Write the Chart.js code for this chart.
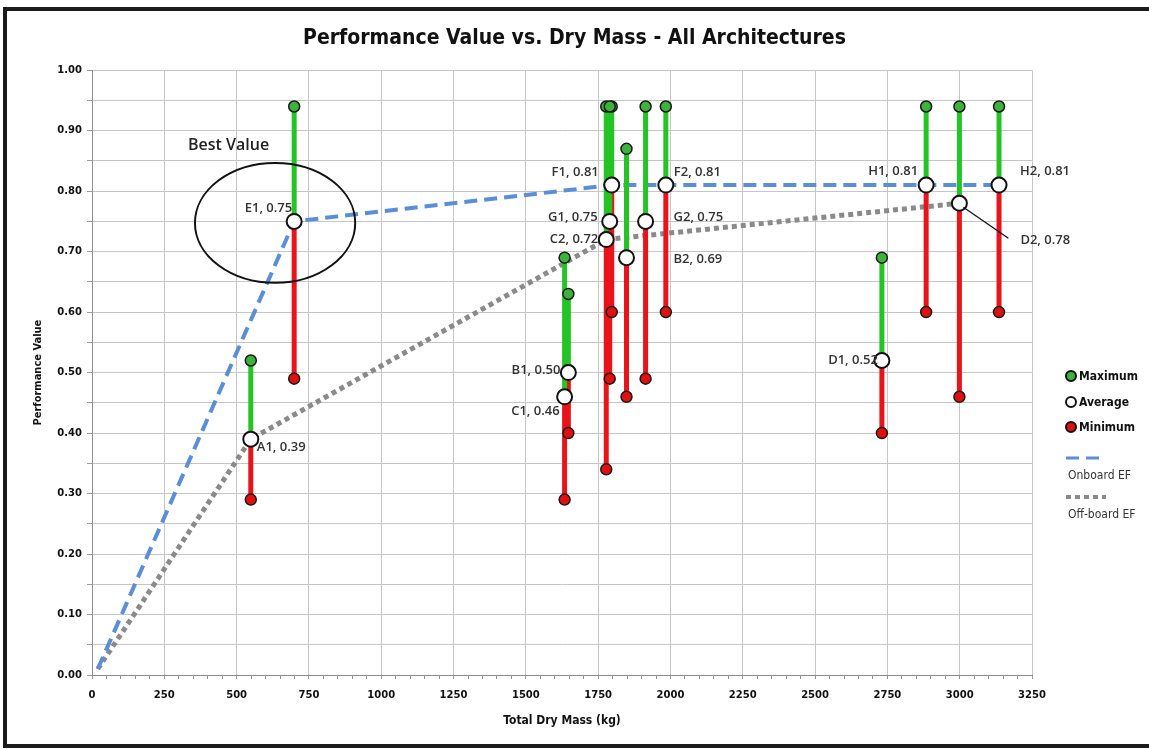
<!DOCTYPE html>
<html>
<head>
<meta charset="utf-8">
<script src="https://cdn.jsdelivr.net/npm/chart.js@4.4.1/dist/chart.umd.min.js"></script>
<style>
  html, body { margin: 0; padding: 0; background: #fff; }
  #wrap { position: relative; width: 1149px; height: 749px; overflow: hidden; }
  #frame { position: absolute; left: 3px; top: 7px; width: 1200px; height: 741px;
           border: 4px solid #1b1b1b; box-sizing: border-box; pointer-events: none; }
</style>
</head>
<body>
<div id="wrap">
  <canvas id="chart" width="1149" height="749"></canvas>
  <div id="frame"></div>
</div>
<script>
// architectures: total dry mass (kg) and performance value (max / average / min)
const names    = ['A1', 'B1', 'B2', 'C1', 'C2', 'D1', 'D2', 'E1', 'F1', 'F2', 'G1', 'G2', 'H1', 'H2'];
const dryMass  = [549, 1647, 1848, 1634, 1778, 2731, 2999, 699, 1797, 1984, 1790, 1914, 2884, 3136];
const maxValue = [0.52, 0.63, 0.87, 0.69, 0.94, 0.69, 0.94, 0.94, 0.94, 0.94, 0.94, 0.94, 0.94, 0.94];
const avgValue = [0.39, 0.50, 0.69, 0.46, 0.72, 0.52, 0.78, 0.75, 0.81, 0.81, 0.75, 0.75, 0.81, 0.81];
const minValue = [0.29, 0.40, 0.46, 0.29, 0.34, 0.40, 0.46, 0.49, 0.60, 0.60, 0.49, 0.49, 0.60, 0.60];

// efficient frontiers
const onboardMass   = [20, 699, 1797, 1984, 2884, 3136];
const onboardValue  = [0.01, 0.75, 0.81, 0.81, 0.81, 0.81];
const offboardMass  = [20, 549, 1778, 2999];
const offboardValue = [0.01, 0.39, 0.72, 0.78];

// where each average label sits, relative to its point (align, dx, dy)
const labelPlace = {
  A1: ['left', 6, 8],    B1: ['right', -8, -2], B2: ['left', 47, 2],   C1: ['right', -5, 15],
  C2: ['right', -8, 0],  D1: ['right', -4, 0],  D2: ['left', 61, 37],  E1: ['right', -2, -13],
  F1: ['right', -13, -13], F2: ['left', 8, -13], G1: ['right', -12, -4], G2: ['left', 28, -4],
  H1: ['right', -8, -14], H2: ['left', 21, -14]
};

const GREEN = '#25c425', RED = '#e8141a', BLUE = '#5a8ed6', GREY = '#8a8a8a';
const NARROW = "'Liberation Sans Narrow', 'DejaVu Sans Condensed', sans-serif";

const points = ys => dryMass.map((m, i) => ({ x: m, y: ys[i] }));
function stems(from, to) {
  const d = [];
  dryMass.forEach((m, i) => { d.push({ x: m, y: from[i] }, { x: m, y: to[i] }, { x: m, y: null }); });
  return d;
}
const line = (xs, ys) => xs.map((m, i) => ({ x: m, y: ys[i] }));

// labels, "Best Value" ellipse, and the legend
const overlayPlugin = {
  id: 'overlay',
  afterDatasetsDraw(chart) {
    const { ctx, scales: { x, y } } = chart;
    ctx.save();

    // Best Value ellipse round E1
    const cx = x.getPixelForValue(633), cy = y.getPixelForValue(0.7475);
    const rx = x.getPixelForValue(633 + 277) - cx, ry = cy - y.getPixelForValue(0.7475 + 0.099);
    ctx.beginPath();
    ctx.ellipse(cx, cy, rx, ry, 0, 0, Math.PI * 2);
    ctx.lineWidth = 2;
    ctx.strokeStyle = '#111';
    ctx.stroke();
    ctx.font = '600 16px "Open Sans"';
    ctx.fillStyle = '#222';
    ctx.textAlign = 'left';
    ctx.textBaseline = 'middle';
    ctx.fillText('Best Value', x.getPixelForValue(332), y.getPixelForValue(0.875));

    // average labels
    const meta = chart.getDatasetMeta(0);
    ctx.font = '600 13px "Open Sans"';
    ctx.fillStyle = '#333';
    meta.data.forEach((pt, i) => {
      const [align, dx, dy] = labelPlace[names[i]];
      ctx.textAlign = align;
      ctx.fillText(names[i] + ', ' + avgValue[i].toFixed(2), pt.x + dx, pt.y + dy);
      if (names[i] === 'D2') {
        ctx.beginPath();
        ctx.moveTo(pt.x + 4, pt.y + 4);
        ctx.lineTo(pt.x + 49, pt.y + 35);
        ctx.lineWidth = 1.3;
        ctx.strokeStyle = '#111';
        ctx.stroke();
      }
    });
    ctx.restore();
  },
  afterDraw(chart) {
    const { ctx, chartArea } = chart;
    const ds = chart.data.datasets;
    const lx = chartArea.right + 34;
    ctx.save();
    ctx.textBaseline = 'middle';
    ctx.textAlign = 'left';
    // marker items
    [[1, 376], [0, 402], [2, 427]].forEach(([k, yy]) => {
      ctx.beginPath();
      ctx.arc(lx + 5, yy, 5, 0, Math.PI * 2);
      ctx.fillStyle = ds[k].backgroundColor;
      ctx.fill();
      ctx.lineWidth = 2;
      ctx.strokeStyle = '#111';
      ctx.stroke();
      ctx.font = 'bold 12px ' + NARROW;
      ctx.fillStyle = '#111';
      ctx.fillText(ds[k].label, lx + 13, yy + 1);
    });
    // line items
    [[5, 458, 476], [6, 497, 515]].forEach(([k, ly, ty]) => {
      ctx.beginPath();
      ctx.setLineDash(ds[k].borderDash);
      ctx.moveTo(lx, ly);
      ctx.lineTo(lx + 40, ly);
      ctx.lineWidth = ds[k].borderWidth - 1;
      ctx.strokeStyle = ds[k].borderColor;
      ctx.stroke();
      ctx.setLineDash([]);
      ctx.font = '12px ' + NARROW;
      ctx.fillStyle = '#333';
      ctx.fillText(ds[k].label, lx + 2, ty);
    });
    ctx.restore();
  }
};

const tickFont = { family: 'DejaVu Sans', size: 10, weight: 'bold' };

new Chart(document.getElementById('chart'), {
  type: 'scatter',
  data: {
    datasets: [
      { label: 'Average', data: points(avgValue), backgroundColor: '#ffffff', borderColor: '#111',
        borderWidth: 2, pointRadius: 7.5 },
      { label: 'Maximum', data: points(maxValue), backgroundColor: '#3cb43c', borderColor: '#1a1a1a',
        borderWidth: 1.5, pointRadius: 5.5 },
      { label: 'Minimum', data: points(minValue), backgroundColor: '#e01010', borderColor: '#1a1a1a',
        borderWidth: 1.5, pointRadius: 5.5 },
      { label: 'avg-max', data: stems(avgValue, maxValue), showLine: true, spanGaps: false,
        borderColor: GREEN, borderWidth: 5, pointRadius: 0 },
      { label: 'min-avg', data: stems(minValue, avgValue), showLine: true, spanGaps: false,
        borderColor: RED, borderWidth: 5, pointRadius: 0 },
      { label: 'Onboard EF', data: line(onboardMass, onboardValue), showLine: true,
        borderColor: BLUE, borderWidth: 4, borderDash: [13, 7], pointRadius: 0 },
      { label: 'Off-board EF', data: line(offboardMass, offboardValue), showLine: true,
        borderColor: GREY, borderWidth: 5, borderDash: [5, 4], pointRadius: 0 }
    ]
  },
  options: {
    responsive: false,
    animation: false,
    layout: { padding: 0 },
    plugins: {
      legend: { display: false },
      tooltip: { enabled: false },
      title: {
        display: true,
        text: 'Performance Value vs. Dry Mass - All Architectures',
        color: '#111',
        font: { family: NARROW, size: 21, weight: 'bold', lineHeight: 1.2 },
        padding: { top: 26, bottom: 19 }
      }
    },
    scales: {
      x: {
        type: 'linear', min: 0, max: 3250,
        ticks: {
          stepSize: 50, autoSkip: false, maxRotation: 0, color: '#111', font: tickFont, padding: 10,
          callback: v => (Math.round(v) % 250 === 0 ? String(v) : '')
        },
        grid: {
          color: c => (c.tick && Math.round(c.tick.value) % 250 === 0 ? '#c6c6c6' : 'rgba(0,0,0,0)'),
          tickColor: '#9a9a9a', tickLength: 4
        },
        border: { color: '#8c8c8c' },
        title: { display: true, text: 'Total Dry Mass (kg)', color: '#111',
                 font: { family: NARROW, size: 12, weight: 'bold' }, padding: { top: 0, bottom: 21 } },
        afterFit: s => { s.height = 74; }
      },
      y: {
        min: 0, max: 1,
        ticks: {
          stepSize: 0.05, autoSkip: false, color: '#111', font: tickFont, padding: 5,
          callback: v => (Math.round(v * 100) % 10 === 0 ? v.toFixed(2) : '')
        },
        grid: { color: '#c6c6c6', tickColor: '#9a9a9a', tickLength: 5 },
        border: { color: '#8c8c8c' },
        title: { display: true, text: 'Performance Value', color: '#111',
                 font: { family: NARROW, size: 11, weight: 'bold' }, padding: { top: 32, bottom: 0 } },
        afterFit: s => { s.width = 92; }
      },
      // empty strip on the right that holds the legend
      legendSpace: {
        type: 'linear', position: 'right', min: 0, max: 1,
        grid: { display: false }, ticks: { display: false }, border: { display: false },
        afterFit: s => { s.width = 117; }
      }
    }
  },
  plugins: [overlayPlugin]
});
</script>
</body>
</html>
